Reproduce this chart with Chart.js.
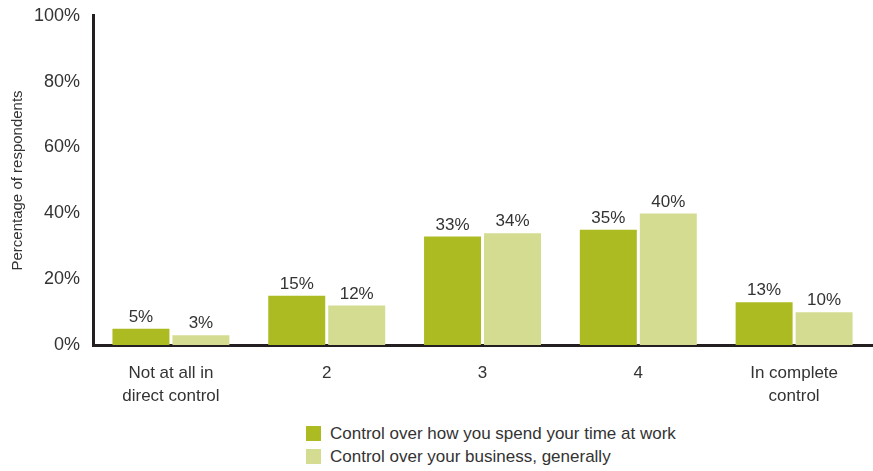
<!DOCTYPE html>
<html>
<head>
<meta charset="utf-8">
<script src="https://cdn.jsdelivr.net/npm/chart.js@4"></script>
<style>
  body { margin: 0; background: #fff; }
  #wrap { position: relative; width: 873px; height: 471px; }
  #box { position: absolute; left: 0; top: 0; width: 873px; height: 417px; }
  #legend { position: absolute; left: 306px; top: 422px; font-family: "Liberation Sans", sans-serif; font-size: 17px; color: #333; }
  #legend div { height: 23px; line-height: 23px; display: flex; align-items: center; }
  #legend span.sw { display: inline-block; width: 15px; height: 15px; margin-right: 9px; }
</style>
</head>
<body>
<div id="wrap">
  <div id="box"><canvas id="myChart"></canvas></div>
  <div id="legend"></div>
</div>
<script>
var categories = [["Not at all in", "direct control"], "2", "3", "4", ["In complete", "control"]];
var timeAtWork = [5, 15, 33, 35, 13];
var business = [3, 12, 34, 40, 10];
var seriesNames = ["Control over how you spend your time at work", "Control over your business, generally"];
var seriesColors = ["#adbb22", "#d4dc92"];
var yTicks = [0, 20, 40, 60, 80, 100];

var fontFamily = '"Liberation Sans", sans-serif';
var textColor = "#333";

// value labels above each bar
var barLabels = {
  id: "barLabels",
  afterDatasetsDraw: function (chart) {
    var ctx = chart.ctx;
    ctx.save();
    ctx.font = "17px " + fontFamily;
    ctx.fillStyle = textColor;
    ctx.textAlign = "center";
    ctx.textBaseline = "bottom";
    chart.data.datasets.forEach(function (ds, i) {
      chart.getDatasetMeta(i).data.forEach(function (bar, j) {
        ctx.fillText(ds.data[j] + "%", bar.x, bar.y - 3);
      });
    });
    ctx.restore();
  }
};

var chart = new Chart("myChart", {
  type: "bar",
  data: {
    labels: categories,
    datasets: [
      { label: seriesNames[0], data: timeAtWork, backgroundColor: seriesColors[0] },
      { label: seriesNames[1], data: business, backgroundColor: seriesColors[1] }
    ]
  },
  options: {
    responsive: true,
    maintainAspectRatio: false,
    animation: false,
    categoryPercentage: 0.77,
    barPercentage: 0.95,
    layout: { padding: { top: 8, right: 1, left: 3 } },
    scales: {
      x: {
        grid: { display: false },
        border: { color: "#231f20", width: 3 },
        ticks: { color: textColor, font: { family: fontFamily, size: 17, lineHeight: 1.35 }, padding: 9, maxRotation: 0 }
      },
      y: {
        min: 0,
        max: 100,
        afterBuildTicks: function (axis) {
          axis.ticks = yTicks.map(function (v) { return { value: v }; });
        },
        grid: { display: false },
        border: { color: "#231f20", width: 3 },
        ticks: {
          color: textColor,
          font: { family: fontFamily, size: 18 },
          padding: 5,
          callback: function (v) { return v + "%"; }
        },
        title: {
          display: true,
          text: "Percentage of respondents",
          color: textColor,
          font: { family: fontFamily, size: 15 },
          padding: { top: 6, bottom: 2 }
        }
      }
    },
    plugins: {
      legend: { display: false },
      tooltip: { enabled: false }
    }
  },
  plugins: [barLabels]
});

// legend stacked in one column under the chart
var legend = document.getElementById("legend");
chart.data.datasets.forEach(function (ds) {
  var row = document.createElement("div");
  var sw = document.createElement("span");
  sw.className = "sw";
  sw.style.background = ds.backgroundColor;
  row.appendChild(sw);
  row.appendChild(document.createTextNode(ds.label));
  legend.appendChild(row);
});
</script>
</body>
</html>
